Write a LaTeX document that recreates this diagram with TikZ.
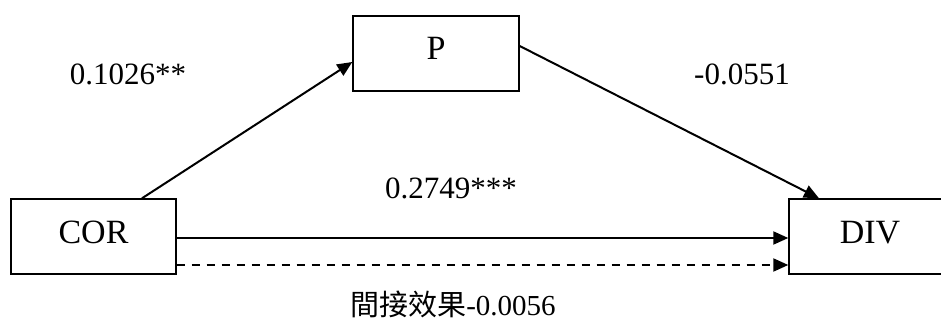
\documentclass[tikz,border=0pt]{standalone}
\usepackage{fontspec}
\setmainfont{Liberation Serif}
\newfontfamily\cjk{Noto Sans CJK TC}
\usetikzlibrary{arrows.meta,calc}
\tikzset{
  varbox/.style={draw=black, line width=1.4pt, minimum width=#1, minimum height=75pt, inner sep=0pt,
    text height=24pt, text depth=11pt, font=\fontsize{34}{40}\selectfont},
  varbox/.default=165pt,
  lbl/.style={anchor=base, inner sep=0pt, font=\fontsize{31}{36}\selectfont},
  conn/.style={line width=2pt, -{Triangle[length=15pt,width=13pt]}},
  dashconn/.style={conn, dash pattern=on 8pt off 7pt}
}
\begin{document}
\begin{tikzpicture}[x=1pt,y=-1pt]
\useasboundingbox (0,0) rectangle (941,323);
\clip (0,0) rectangle (941,323);
\node[varbox=166pt] (P) at (436,53.5) {P};
\node[varbox=165pt] (COR) at (93.5,236.5) {COR};
\node[varbox=162pt] (DIV) at (870,236.5) {DIV};
\draw[conn] ($(COR.north)+(48.5,0)$) -- ($(P.west)+(0,8.5)$);
\draw[conn] ($(P.east)+(0,-7.5)$) -- ($(DIV.north)+(-51,0)$);
\draw[conn] ($(COR.east)+(0,1.5)$) -- ($(DIV.west)+(0,1.5)$);
\draw[dashconn] ($(COR.east)+(0,28.5)$) -- ($(DIV.west)+(0,28.5)$);
\node[lbl] (l1) at (128,85) {0.1026**};
\node[lbl] (l2) at (742,85) {-0.0551};
\node[lbl] (l3) at (451,198) {0.2749***};
\node[lbl, font=\fontsize{29}{34}\selectfont] (l4) at (453,315) {{\cjk 間接效果}-0.0056};
\end{tikzpicture}
\end{document}
